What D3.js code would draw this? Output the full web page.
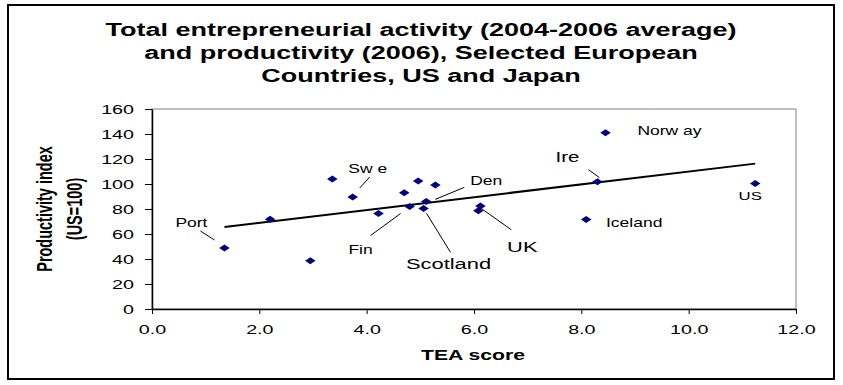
<!DOCTYPE html>
<html>
<head>
<meta charset="utf-8">
<script src="https://cdn.jsdelivr.net/npm/d3@7"></script>
<style>
  body { margin: 0; background: #fff; }
  svg { display: block; font-family: "Liberation Sans", Arial, sans-serif; }
</style>
</head>
<body>
<svg id="chart" width="843" height="385"></svg>
<script>
// data
var countries = ["Port", "", "", "", "Sw e", "", "", "Fin", "", "Scotland", "Den", "", "", "UK", "Norw ay", "Ire", "Iceland", "US"]
var teaScore = [1.35, 2.2, 2.95, 3.36, 3.74, 4.22, 4.70, 4.80, 4.96, 5.06, 5.11, 5.28, 6.12, 6.08, 8.45, 8.30, 8.09, 11.24]
var productivity = [48.8, 71.8, 38.7, 104, 89.6, 76.5, 93, 82, 102.4, 80.5, 86.1, 99.2, 82.4, 78.6, 141, 101.9, 71.7, 100.5]
var xTicks = [0, 2, 4, 6, 8, 10, 12]
var yTicks = [0, 20, 40, 60, 80, 100, 120, 140, 160]
var titleLines = ["Total entrepreneurial activity (2004-2006 average)", "and productivity (2006), Selected European", "Countries, US and Japan"]

// label placement (pixel offsets from the point)
var labelLayout = {
   "Port":     {dx: -33, dy: -25, size: 12, leader: [-24, -17, -10, -8]},
   "Sw e":     {dx: 15,  dy: -28, size: 12, leader: [7, -9, 17, -20]},
   "Fin":      {dx: -49, dy: 43,  size: 12, leader: [-9, 7, -39, 29]},
   "Scotland": {dx: 25,  dy: 55,  size: 15, leader: [3, 5, 27, 44]},
   "Den":      {dx: 60,  dy: -21, size: 12, leader: [9, -2, 38, -14]},
   "UK":       {dx: 44,  dy: 36,  size: 15, leader: [2, -3, 33, 19]},
   "Ire":      {dx: -30, dy: -25, size: 14, leader: [2, -4, -9, -12]},
   "Norw ay":  {dx: 64,  dy: -2,  size: 12},
   "Iceland":  {dx: 48,  dy: 3,   size: 12},
   "US":       {dx: -5,  dy: 13,  size: 11.5}
}

var K = 1.46  // the picture is stretched sideways
var svg = d3.select("#chart")
var plotLeft = 152, plotRight = 796, plotTop = 109, plotBottom = 309

var points = teaScore.map((d, i) => ({x: d, y: productivity[i], name: countries[i]}))

var xScale = d3.scaleLinear().domain([0, 12]).range([plotLeft, plotRight])
var yScale = d3.scaleLinear().domain([0, 160]).range([plotBottom, plotTop])

function stretch(sel) {
   sel.each(function() {
      var t = d3.select(this)
      var x = +t.attr("x") || 0
      t.attr("transform", "translate(" + (x * (1 - K)) + ",0) scale(" + K + ",1)")
   })
}

// outer border
svg.append("rect")
   .attr("x", 8).attr("y", 5)
   .attr("width", 826).attr("height", 374)
   .attr("fill", "#fff")
   .attr("stroke", "#000")
   .attr("stroke-width", 2)

// plot area border
svg.append("rect")
   .attr("x", plotLeft).attr("y", plotTop)
   .attr("width", plotRight - plotLeft).attr("height", plotBottom - plotTop)
   .attr("fill", "none")
   .attr("stroke", "#808080")
   .attr("stroke-width", 1)

// title
svg.append("g").selectAll("text")
   .data(titleLines)
   .join("text")
   .attr("x", 421)
   .attr("y", (d, i) => 36.5 + i * 23)
   .attr("text-anchor", "middle")
   .attr("font-weight", "bold")
   .attr("font-size", 18.5)
   .text(d => d)

// axes
var xAxis = d3.axisBottom(xScale).tickValues(xTicks).tickFormat(d3.format(".1f"))
   .tickSizeInner(5).tickSizeOuter(0).tickPadding(10)
var yAxis = d3.axisLeft(yScale).tickValues(yTicks)
   .tickSizeInner(7).tickSizeOuter(0).tickPadding(11)

var gx = svg.append("g")
   .attr("transform", "translate(0," + plotBottom + ")")
   .call(xAxis)
var gy = svg.append("g")
   .attr("transform", "translate(" + plotLeft + ",0)")
   .call(yAxis)

svg.selectAll(".domain").attr("stroke", "#000").attr("stroke-width", 1.5)
svg.selectAll(".tick line").attr("stroke", "#000")
svg.selectAll(".tick text")
   .attr("font-family", "Liberation Sans, Arial, sans-serif")
   .attr("font-size", 13.5)
   .attr("fill", "#000")

// axis titles
svg.append("text")
   .attr("x", 473).attr("y", 360)
   .attr("text-anchor", "middle")
   .attr("font-weight", "bold")
   .attr("font-size", 14.5)
   .text("TEA score")

var yTitle = ["Productivity index", "(US=100)"]
svg.append("g").selectAll("text")
   .data(yTitle)
   .join("text")
   .attr("transform", (d, i) => "translate(" + (45 + i * 30) + ",209) scale(" + K + ",1) rotate(-90)")
   .attr("text-anchor", "middle")
   .attr("dy", "0.35em")
   .attr("font-weight", "bold")
   .attr("font-size", 14.5)
   .text(d => d)

// linear trend line (least squares over the points)
var mx = d3.mean(teaScore), my = d3.mean(productivity)
var slope = d3.sum(points, d => (d.x - mx) * (d.y - my)) / d3.sum(points, d => (d.x - mx) * (d.x - mx))
var intercept = my - slope * mx
var xExt = d3.extent(teaScore)
svg.append("line")
   .attr("x1", xScale(xExt[0])).attr("y1", yScale(intercept + slope * xExt[0]))
   .attr("x2", xScale(xExt[1])).attr("y2", yScale(intercept + slope * xExt[1]))
   .attr("stroke", "#000")
   .attr("stroke-width", 2)

// markers
svg.append("g").selectAll("path")
   .data(points)
   .join("path")
   .attr("transform", d => "translate(" + xScale(d.x) + "," + yScale(d.y) + ")")
   .attr("d", "M0,-3.5L5.25,0L0,3.5L-5.25,0Z")
   .attr("fill", "#000080")

// labels and leader lines
var labelled = points.filter(d => d.name && labelLayout[d.name])
svg.append("g").selectAll("line")
   .data(labelled.filter(d => labelLayout[d.name].leader))
   .join("line")
   .attr("x1", d => xScale(d.x) + labelLayout[d.name].leader[0])
   .attr("y1", d => yScale(d.y) + labelLayout[d.name].leader[1])
   .attr("x2", d => xScale(d.x) + labelLayout[d.name].leader[2])
   .attr("y2", d => yScale(d.y) + labelLayout[d.name].leader[3])
   .attr("stroke", "#000")
   .attr("stroke-width", 1)

svg.append("g").attr("class", "labels").selectAll("text")
   .data(labelled)
   .join("text")
   .attr("x", d => xScale(d.x) + labelLayout[d.name].dx)
   .attr("y", d => yScale(d.y) + labelLayout[d.name].dy)
   .attr("dy", "0.35em")
   .attr("text-anchor", "middle")
   .attr("font-size", d => labelLayout[d.name].size)
   .text(d => d.name)

// stretch every horizontal text sideways like the picture
svg.selectAll("text").filter(function() { return !this.getAttribute("transform") }).call(stretch)
</script>
</body>
</html>
